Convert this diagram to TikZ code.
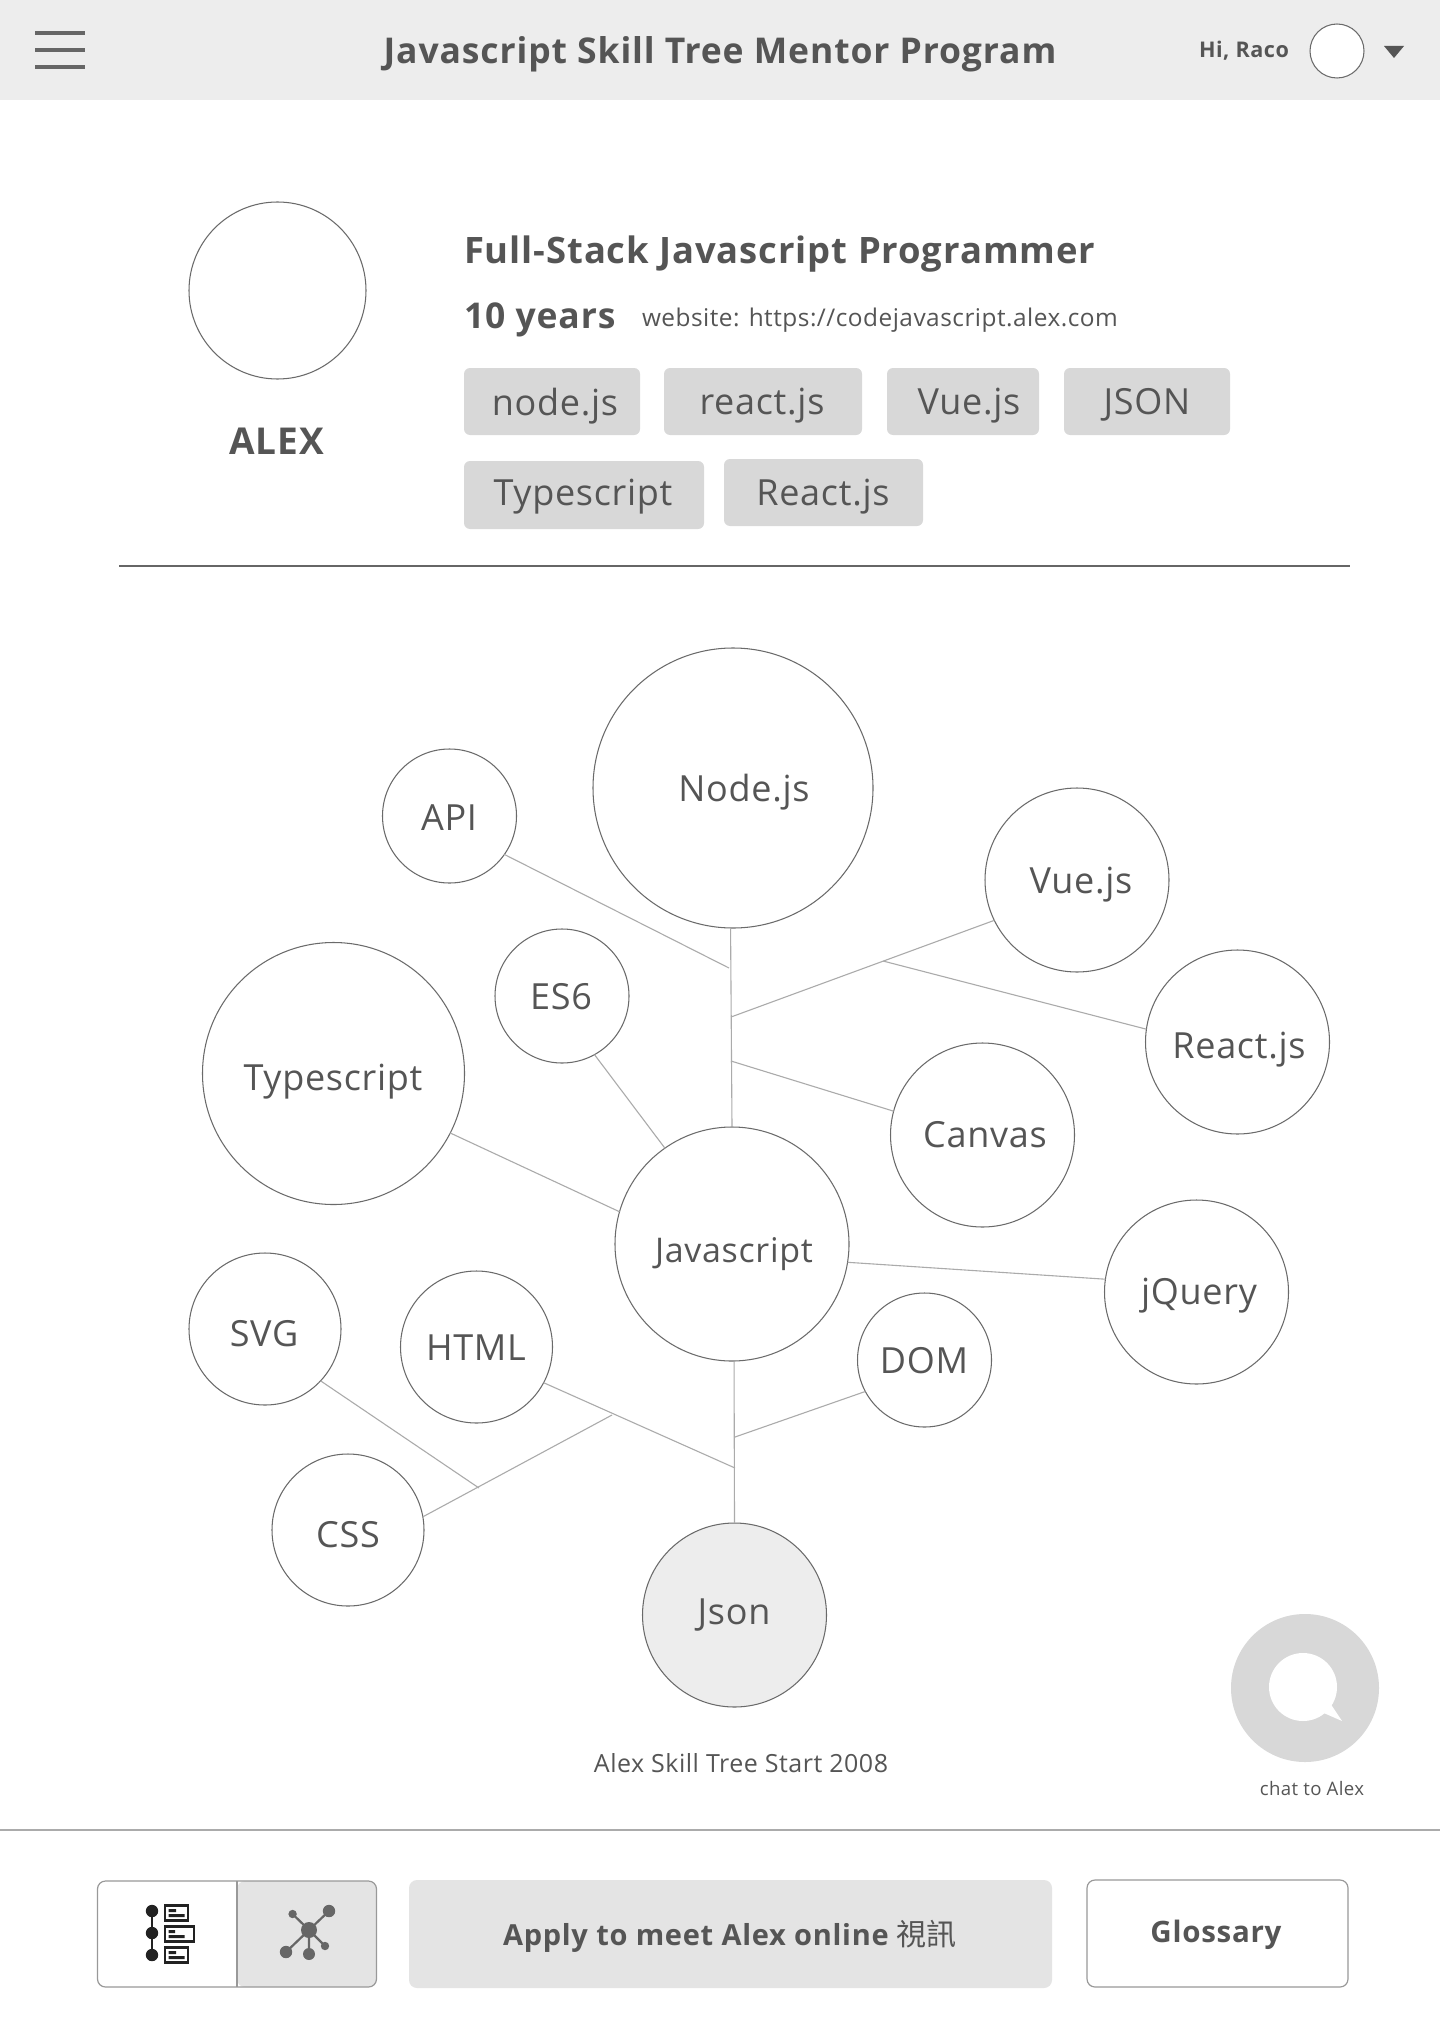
\documentclass[tikz,border=0pt]{standalone}
\usepackage{fontspec}
\setmainfont{Open Sans}
\newfontfamily\medfont[LetterSpace=2.5]{Open Sans Bold}
\newfontfamily\regfont[LetterSpace=2]{Open Sans}
\newfontfamily\cjkfont{Noto Sans CJK TC}
\definecolor{ink}{HTML}{555555}
\definecolor{hdr}{HTML}{EDEDED}
\definecolor{tagfill}{HTML}{D8D8D8}
\definecolor{btnfill}{HTML}{E4E4E4}
\definecolor{ring}{HTML}{6A6A6A}
\definecolor{conn}{HTML}{ABABAB}
\definecolor{edgegry}{HTML}{999999}
\definecolor{iconblk}{HTML}{222222}
\definecolor{icongry}{HTML}{666666}
\tikzset{
  every node/.style={text=ink,inner sep=0pt,outer sep=0pt},
  bub/.style={circle,draw=ring,line width=1.05pt,fill=white,minimum size=#1},
  lab/.style={anchor=center,font=\regfont\fontsize{36}{40}\selectfont},
  tag/.style={draw=none,fill=tagfill,rounded corners=6pt},
  tagtxt/.style={font=\regfont\fontsize{36}{40}\selectfont},
  link/.style={draw=conn,line width=1.1pt},
  segbox/.style={draw=edgegry,line width=1.2pt,rounded corners=8pt},
  icoline/.style={line width=2.2pt},
}
\begin{document}
\begin{tikzpicture}[x=1pt,y=-1pt]
\useasboundingbox (0,0) rectangle (1440,2033);
\fill[white] (0,0) rectangle (1440,2033);
% header
\fill[hdr] (0,0) rectangle (1440,100);
\foreach \yy in {33,50,67}{\fill[ink!90] (35,\yy-1.6) rectangle (85,\yy+1.6);}
\node[font=\medfont\fontsize{35.5}{40}\selectfont] (title) at (720,54) {Javascript Skill Tree Mentor Program};
\node[font=\medfont\fontsize{21.6}{24}\selectfont] (hi) at (1244,51) {Hi, Raco};
\node[bub=54pt] (ava) at (1337,51) {};
\fill[ink] (1384,46) -- (1404,46) -- (1394,58) -- cycle;
% profile
\node[bub=177pt] (photo) at (277.5,290.5) {};
\node[font=\medfont\fontsize{37}{40}\selectfont] (alex) at (276.5,441) {ALEX};
\node[anchor=west,font=\medfont\fontsize{36.4}{40}\selectfont] (role) at (464,254) {Full-Stack Javascript Programmer};
\node[anchor=west,font=\medfont\fontsize{35.5}{40}\selectfont] (years) at (464,320) {10 years};
\node[anchor=west,font=\regfont\fontsize{24.4}{28}\selectfont] (site) at (642,320) {website: https://codejavascript.alex.com};
% tags
\fill[tag] (464,368) rectangle (640,435);
\fill[tag] (664,368) rectangle (862,435);
\fill[tag] (887,368) rectangle (1039,435);
\fill[tag] (1064,368) rectangle (1230,435);
\fill[tag] (464,461) rectangle (704,529);
\fill[tag] (724,459) rectangle (923,526);
\node[tagtxt] (t1) at (555,406) {node.js};
\node[tagtxt] (t2) at (762,406) {react.js};
\node[tagtxt] (t3) at (969,406) {Vue.js};
\node[tagtxt] (t4) at (1147,405) {JSON};
\node[tagtxt] (t5) at (583,497) {Typescript};
\node[tagtxt] (t6) at (823,497) {React.js};
\draw[icongry,line width=1.2pt] (119,566) -- (1350,566);
% bubbles
\node[bub=134pt] (api) at (449.5,816) {};
\node[bub=280pt] (nodejs) at (733,788) {};
\node[bub=184pt] (vue) at (1077,880) {};
\node[bub=184pt] (react) at (1237.5,1042) {};
\node[bub=134pt] (es) at (562,996) {};
\node[bub=262pt] (ts) at (333.5,1073.5) {};
\node[bub=184pt] (canvas) at (982.5,1135) {};
\node[bub=234pt] (js) at (732,1244) {};
\node[bub=184pt] (jq) at (1196.5,1292) {};
\node[bub=152pt] (svg) at (265,1329) {};
\node[bub=152pt] (html) at (476.5,1347) {};
\node[bub=134pt] (dom) at (924.5,1360) {};
\node[bub=152pt] (css) at (348,1530) {};
\node[bub=184pt,fill=hdr] (json) at (734.5,1615) {};
% labels
\node[lab] (lapi) at (449,818) {API};
\node[lab] (lnode) at (744,792) {Node.js};
\node[lab] (lvue) at (1081,885) {Vue.js};
\node[lab] (lreact) at (1239,1050) {React.js};
\node[lab] (les) at (561,997) {ES6};
\node[lab] (lts) at (333,1082) {Typescript};
\node[lab] (lcanvas) at (985,1135) {Canvas};
\node[lab,font=\regfont\fontsize{34}{36}\selectfont] (ljs) at (734,1254) {Javascript};
\node[lab] (ljq) at (1199,1296) {jQuery};
\node[lab] (lsvg) at (264,1334) {SVG};
\node[lab] (lhtml) at (476,1348) {HTML};
\node[lab] (ldom) at (924,1361) {DOM};
\node[lab] (lcss) at (348,1535) {CSS};
\node[lab] (ljson) at (734,1615) {Json};
% junctions
\coordinate (j1) at (729,968);
\coordinate (j2) at (731,1017);
\coordinate (j3) at (883,961);
\coordinate (j4) at (731,1061);
\coordinate (j5) at (735,1437);
\coordinate (j6) at (735,1468);
\coordinate (j7) at (479,1488);
\coordinate (j8) at (612,1415);
% connectors
\draw[link] (nodejs.-91) -- (js.90.6);
\draw[link] (api.-35) -- (j1);
\draw[link] (j2) -- (vue.-154);
\draw[link] (j3) -- (react.172);
\draw[link] (j4) -- (canvas.165);
\draw[link] (es.-61) -- (js.125);
\draw[link] (ts.-27.6) -- (js.164);
\draw[link] (js.-9.5) -- (jq.172.7);
\draw[link] (js.-89) -- (json.90);
\draw[link] (j5) -- (dom.208);
\draw[link] (html.-28) -- (j6);
\draw[link] (svg.-43) -- (j7);
\draw[link] (css.10) -- (j8);
% caption
\node[font=\regfont\fontsize{25}{28}\selectfont] (cap) at (741,1763) {Alex Skill Tree Start 2008};
% chat
\fill[tagfill] (1305,1688) circle (74);
\fill[white] (1303,1687) circle (34);
\fill[white] (1328,1700) -- (1342,1721) -- (1317,1710) -- cycle;
\node[font=\regfont\fontsize{18.6}{24}\selectfont] (chat) at (1312,1789) {chat to Alex};
% footer
\draw[conn,line width=1.2pt] (0,1830) -- (1440,1830);
\fill[btnfill,rounded corners=8pt] (237,1881) -- (376.5,1881) -- (376.5,1987) -- (237,1987) -- cycle;
\draw[segbox] (97.5,1881) rectangle (376.5,1987);
\draw[edgegry,line width=1.2pt] (237,1881) -- (237,1987);
% list icon
\draw[iconblk,icoline] (152,1911) -- (152,1955);
\fill[iconblk] (152,1911) circle (6.2) (152,1933) circle (6.2) (152,1955) circle (6.2);
\draw[iconblk,icoline] (165,1905.5) rectangle (188,1920.5);
\draw[iconblk,icoline] (165,1926.5) rectangle (194,1941.5);
\draw[iconblk,icoline] (165,1947.5) rectangle (188,1962.5);
\fill[iconblk] (168.5,1909) rectangle (176,1912) (168.5,1914) rectangle (184.5,1917);
\fill[iconblk] (168.5,1930) rectangle (175,1933) (168.5,1935) rectangle (184.5,1938);
\fill[iconblk] (168.5,1951) rectangle (176,1954) (168.5,1956) rectangle (184.5,1959);
% network icon
\draw[icongry,icoline] (309,1930) -- (329,1911) (309,1930) -- (292.6,1914) (309,1930) -- (286,1952) (309,1930) -- (309,1954) (309,1930) -- (325,1946);
\fill[icongry] (309,1930) circle (8) (329,1911) circle (6.2) (292.6,1914) circle (4.2) (286,1952) circle (6.2) (309,1954) circle (6) (325,1946) circle (4.2);
% buttons
\fill[btnfill,rounded corners=8pt] (409,1880) rectangle (1052,1988);
\node[font=\medfont\fontsize{29}{34}\selectfont] (apply) at (730,1936) {Apply to meet Alex online {\cjkfont\fontsize{30}{34}\selectfont 視訊}};
\draw[segbox] (1087,1880) rectangle (1348,1987);
\node[font=\medfont\fontsize{29.5}{34}\selectfont] (gloss) at (1216,1935) {Glossary};
\end{tikzpicture}
\end{document}
